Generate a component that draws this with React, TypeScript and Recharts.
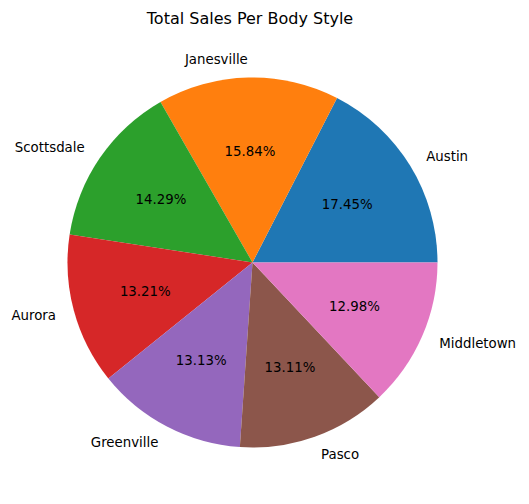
import { PieChart, Pie, Cell } from 'recharts';

const cities = ['Austin', 'Janesville', 'Scottsdale', 'Aurora', 'Greenville', 'Pasco', 'Middletown'];
const sales = [17.45, 15.84, 14.29, 13.21, 13.13, 13.11, 12.98];
const COLORS = ['#1f77b4', '#ff7f0e', '#2ca02c', '#d62728', '#9467bd', '#8c564b', '#e377c2'];

const data = cities.map((c, i) => ({ name: c, value: sales[i] }));

const FONT = '"DejaVu Sans", sans-serif';
const RADIAN = Math.PI / 180;

const renderLabel = ({ cx, cy, midAngle, outerRadius, percent, name }: any) => {
    const cos = Math.cos(midAngle * RADIAN);
    const sin = Math.sin(midAngle * RADIAN);
    const lx = cx + outerRadius * 1.1 * cos;
    const ly = cy - outerRadius * 1.1 * sin;
    const px = cx + outerRadius * 0.6 * cos;
    const py = cy - outerRadius * 0.6 * sin;
    return (
        <g>
            <text x={lx} y={ly} textAnchor={cos >= 0 ? 'start' : 'end'} dominantBaseline="central" fill="#000" fontSize={13.33} fontFamily={FONT}>
                {name}
            </text>
            <text x={px} y={py} textAnchor="middle" dominantBaseline="central" fill="#000" fontSize={13.33} fontFamily={FONT}>
                {(percent * 100).toFixed(2)}%
            </text>
        </g>
    );
};

export default function App() {
    return (
        <div style={{ position: 'absolute', left: 0, top: 0, width: 529, height: 504, background: '#fff' }}>
            <PieChart width={529} height={504} margin={{ top: 0, right: 0, bottom: 0, left: 0 }}>
                <Pie
                    data={data}
                    dataKey="value"
                    nameKey="name"
                    cx={252.5}
                    cy={262.5}
                    outerRadius={185}
                    startAngle={0}
                    endAngle={360}
                    stroke="none"
                    label={renderLabel}
                    labelLine={false}
                    isAnimationActive={false}
                >
                    {data.map((_, i) => (
                        <Cell key={i} fill={COLORS[i % COLORS.length]} />
                    ))}
                </Pie>
            </PieChart>
            <svg width={529} height={40} style={{ position: 'absolute', left: 0, top: 0, pointerEvents: 'none' }}>
                <text x={250} y={24} textAnchor="middle" fontSize={16} fontFamily={FONT} fill="#000">
                    Total Sales Per Body Style
                </text>
            </svg>
        </div>
    );
}
